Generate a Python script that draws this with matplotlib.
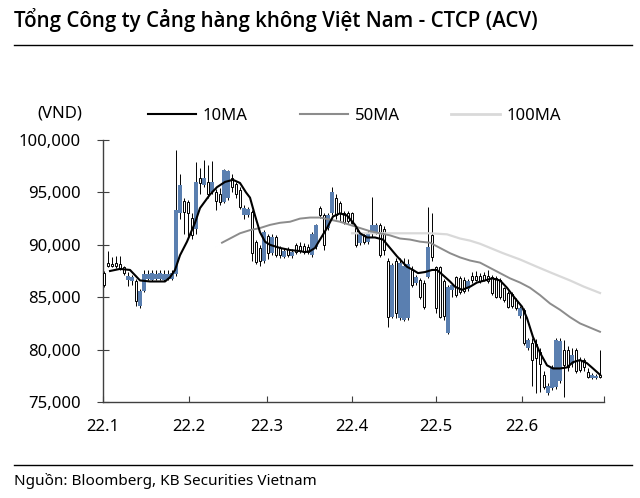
import numpy as np
import matplotlib.pyplot as plt
from matplotlib.lines import Line2D
from matplotlib.ticker import FuncFormatter

plt.rcParams['font.family'] = ['Noto Sans', 'DejaVu Sans']

# daily OHLC, thousand VND (Jan - Jun 2022)
opens = [
    87.3, 88.3, 88.2, 88.3, 88.2, 87.9, 86.6, 86.5, 86.5, 84.2,
    85.6, 86.7, 86.6, 86.7, 86.7, 86.6, 86.7, 86.7, 87.2, 93.0,
    94.2, 94.1, 92.6, 91.5, 96.4, 95.7, 96.0, 95.0, 95.0, 94.8,
    94.1, 94.5, 96.4, 95.8, 95.2, 92.8, 92.8, 93.1, 90.3, 89.7,
    88.5, 90.8, 89.2, 90.7, 89.7, 88.8, 89.6, 88.9, 90.0, 89.9,
    89.9, 89.8, 89.0, 89.8, 93.5, 92.8, 91.6, 93.0, 94.5, 94.0,
    93.0, 93.0, 93.0, 91.6, 90.2, 90.9, 90.3, 91.1, 91.2, 91.9,
    91.5, 88.5, 83.1, 88.5, 83.0, 82.8, 83.0, 87.6, 86.4, 86.6,
    86.4, 86.9, 90.9, 87.9, 87.9, 86.5, 81.6, 85.7, 86.9, 86.8,
    86.6, 85.8, 87.0, 87.0, 87.0, 87.1, 87.0, 86.9, 86.8, 86.6,
    85.9, 85.4, 85.3, 84.7, 83.2, 83.8, 80.2, 80.6, 80.5, 79.8,
    77.6, 75.9, 76.3, 76.4, 77.0, 80.0, 80.0, 78.6, 80.0, 79.0,
    79.0, 77.9, 77.3, 77.3, 77.6]
highs = [
    87.5, 89.4, 88.8, 88.9, 88.9, 88.0, 87.4, 87.1, 86.7, 85.8,
    87.6, 87.6, 87.6, 87.6, 87.6, 87.6, 87.6, 87.6, 99.0, 96.8,
    94.5, 94.3, 93.0, 97.9, 97.3, 98.1, 97.6, 98.0, 95.3, 95.4,
    97.2, 97.1, 96.8, 96.0, 95.5, 93.8, 93.6, 93.3, 90.5, 90.0,
    91.4, 91.0, 91.0, 90.9, 89.9, 89.7, 89.8, 89.6, 90.2, 90.3,
    90.2, 90.1, 91.2, 92.0, 93.7, 93.0, 93.0, 95.5, 94.8, 94.2,
    93.2, 93.2, 93.1, 91.8, 91.2, 91.1, 91.3, 94.6, 92.1, 92.1,
    91.8, 88.7, 88.3, 88.7, 88.7, 88.7, 88.6, 88.0, 87.1, 86.8,
    86.6, 93.6, 93.0, 88.0, 88.0, 86.7, 86.2, 86.4, 87.0, 87.0,
    86.9, 86.7, 87.4, 87.5, 87.3, 87.4, 87.6, 87.1, 87.0, 86.8,
    86.0, 85.6, 85.5, 84.9, 84.2, 84.0, 81.1, 81.1, 81.0, 80.2,
    78.0, 76.8, 78.5, 81.1, 81.1, 80.9, 80.3, 80.2, 80.2, 79.3,
    79.2, 78.2, 77.8, 77.7, 80.0]
lows = [
    86.0, 87.9, 87.9, 87.8, 87.6, 87.1, 86.1, 86.2, 84.2, 84.0,
    85.5, 86.6, 86.5, 86.6, 86.6, 86.5, 86.6, 86.6, 87.0, 92.5,
    91.0, 90.8, 90.6, 91.0, 94.8, 95.5, 94.5, 94.8, 93.3, 93.8,
    94.0, 94.3, 95.0, 94.5, 93.4, 92.5, 92.7, 88.5, 88.2, 88.0,
    88.3, 88.6, 89.0, 88.8, 88.7, 88.7, 88.8, 88.7, 89.1, 89.2,
    89.1, 89.1, 88.8, 89.6, 92.6, 89.5, 91.4, 92.8, 92.5, 92.3,
    92.0, 92.1, 92.0, 89.8, 90.0, 90.1, 90.1, 90.7, 91.0, 88.8,
    89.0, 82.2, 83.0, 83.0, 82.8, 82.7, 82.8, 86.0, 86.2, 84.8,
    83.9, 86.8, 88.5, 83.5, 83.0, 82.8, 81.5, 85.0, 85.0, 85.3,
    85.4, 85.6, 86.4, 86.5, 86.4, 86.5, 86.4, 85.2, 84.9, 84.8,
    84.5, 84.0, 84.0, 83.8, 83.0, 80.4, 80.0, 76.5, 75.9, 76.0,
    76.2, 75.7, 76.1, 76.2, 76.8, 75.5, 78.0, 78.3, 77.8, 77.9,
    78.0, 77.3, 77.2, 77.2, 77.3]
closes = [
    86.2, 88.0, 88.0, 88.0, 87.8, 87.3, 87.0, 86.9, 84.6, 85.6,
    87.2, 87.2, 87.3, 87.2, 87.3, 87.2, 87.2, 87.3, 93.3, 95.7,
    93.1, 93.0, 90.9, 96.0, 95.9, 96.4, 94.8, 96.0, 94.2, 94.1,
    97.1, 97.0, 95.5, 94.8, 93.6, 93.5, 93.4, 89.2, 88.4, 88.5,
    91.2, 89.2, 90.7, 89.0, 89.0, 89.4, 89.0, 89.3, 89.3, 89.4,
    89.3, 89.3, 91.0, 91.9, 92.8, 90.0, 92.8, 95.0, 92.8, 93.0,
    92.2, 92.3, 92.1, 90.0, 91.0, 90.3, 91.0, 91.9, 91.9, 89.0,
    89.5, 83.1, 88.1, 83.5, 88.3, 88.0, 88.2, 86.2, 86.9, 85.0,
    84.1, 89.8, 88.8, 84.0, 83.1, 83.2, 86.0, 86.2, 85.2, 85.5,
    85.6, 86.5, 86.6, 86.6, 86.5, 86.6, 86.5, 85.4, 85.0, 85.0,
    84.7, 84.1, 84.2, 84.0, 84.0, 80.6, 80.9, 79.0, 79.2, 78.6,
    76.4, 76.5, 78.3, 80.9, 80.8, 78.5, 78.3, 79.5, 78.0, 78.1,
    78.3, 77.4, 77.6, 77.5, 77.4]

# moving averages sampled from the chart (position in trading-day index, thousand VND)
ma10_pos = [1.5, 4, 6.5, 7.75, 9, 11.5, 15.25, 16.5, 17.75, 19, 20.75, 22.75, 24, 26.5,
            28.25, 30.25, 32.25, 34, 35.5, 36.5, 37.75, 39, 40.25, 41.5, 44, 46.5, 49,
            50.25, 51.5, 52.75, 54, 55.75, 57.25, 59, 60.75, 62.75, 64, 65.75, 67.75,
            69.75, 71.5, 73.25, 75.75, 77.25, 78.5, 80.25, 82, 83.25, 84.75, 86.5, 87.75,
            89.5, 91.5, 93.25, 95.25, 97, 99, 100.75, 102.75, 104.5, 105.75, 107.25, 109,
            110.75, 112.25, 114, 115.75, 117.25, 119, 120.75, 122.25, 124]
ma10_val = [87.5, 87.7, 87.6, 87.1, 86.6, 86.5, 86.5, 86.9, 87.6, 89.0, 90.3, 92.1, 93.5, 94.8,
            95.5, 96.0, 96.2, 95.9, 95.0, 94.5, 92.8, 91.2, 90.3, 90.0, 89.7, 89.5, 89.4,
            89.3, 89.4, 89.7, 90.5, 91.6, 92.7, 93.0, 92.8, 91.9, 91.1, 90.7, 90.7,
            90.5, 89.7, 88.9, 87.9, 87.6, 87.3, 87.4, 87.6, 87.6, 87.1, 86.5, 86.0,
            85.7, 86.0, 86.4, 86.6, 86.8, 86.6, 85.9, 84.9, 84.1, 83.0, 81.2, 79.7,
            78.5, 78.2, 78.2, 78.3, 78.8, 79.0, 78.7, 78.2, 77.6]
ma50_pos = [29.5, 31.5, 34, 36.5, 39, 41.5, 44, 46.5, 49, 51.5, 54, 56.5, 59, 61.5, 64, 66.5,
            69, 71.5, 74, 76.5, 79, 81.5, 84, 86.5, 89, 91.5, 94, 96.5, 99, 101.5, 104,
            106.5, 109, 111.5, 114, 116.5, 119, 121.5, 124]
ma50_val = [90.2, 90.6, 91.1, 91.4, 91.6, 91.9, 92.1, 92.2, 92.5, 92.6, 92.6, 92.4, 92.2, 91.9,
            91.6, 91.3, 91.1, 90.9, 90.6, 90.5, 90.3, 90.2, 89.7, 89.2, 88.8, 88.5, 88.3,
            87.8, 87.3, 86.8, 86.4, 85.9, 85.2, 84.4, 83.8, 83.1, 82.5, 82.1, 81.7]
ma100_pos = [62, 69, 74, 81.5, 85.75, 89, 91.5, 94, 99.75, 104, 108.25, 112, 116.5, 120, 124]
ma100_val = [91.1, 91.1, 91.1, 91.1, 91.0, 90.6, 90.4, 90.1, 89.2, 88.6, 87.9, 87.3, 86.6, 86.0, 85.4]

month_labels = ['22.1', '22.2', '22.3', '22.4', '22.5', '22.6', '']
month_pos = [-0.25, 21.25, 40.75, 62, 83, 104.5, 125]

BLUE = '#5A7FB0'

o = np.array(opens) * 1000
h = np.array(highs) * 1000
l = np.array(lows) * 1000
c = np.array(closes) * 1000
x = np.arange(len(c))
up = c >= o

fig = plt.figure(figsize=(6.4, 4.98), dpi=100)
ax = fig.add_axes([103 / 640, 1 - 402 / 498, 501 / 640, 262 / 498])

ax.vlines(x, l, h, color='black', lw=0.7, zorder=1)
ax.bar(x[up], (c - o)[up], bottom=o[up], width=1.0, color=BLUE, zorder=2)
ax.bar(x[~up], (o - c)[~up], bottom=c[~up], width=0.7, facecolor='white',
       edgecolor='black', lw=0.7, zorder=3)

ax.plot(ma100_pos, np.array(ma100_val) * 1000, color='#d9d9d9', lw=1.6, zorder=4)
ax.plot(ma50_pos, np.array(ma50_val) * 1000, color='#8c8c8c', lw=1.4, zorder=4)
ax.plot(ma10_pos, np.array(ma10_val) * 1000, color='black', lw=1.5, zorder=5)

ax.set_xlim(-0.25, 125)
ax.set_ylim(75000, 100000)
ax.set_yticks(np.arange(75000, 100001, 5000))
ax.yaxis.set_major_formatter(FuncFormatter(lambda v, p: f'{v:,.0f}'))
ax.set_xticks(month_pos)
ax.set_xticklabels(month_labels)

for s in ['top', 'right']:
    ax.spines[s].set_visible(False)
for s in ['left', 'bottom']:
    ax.spines[s].set_color('#404040')
    ax.spines[s].set_linewidth(1.0)
ax.tick_params(axis='y', direction='inout', length=8, width=0.8, color='#404040',
               pad=12, labelsize=12)
ax.tick_params(axis='x', direction='in', length=4, width=0.8, color='#404040',
               pad=12, labelsize=12)

# title, rules and source
fig.text(0.022, 0.96, 'Tổng Công ty Cảng hàng không Việt Nam - CTCP (ACV)',
         fontsize=14.8, fontweight='semibold', va='center', ha='left',
         family=['Open Sans', 'Noto Sans', 'DejaVu Sans'])
fig.add_artist(Line2D([0.022, 0.9875], [0.9096, 0.9096], transform=fig.transFigure,
                      color='black', lw=1))
fig.add_artist(Line2D([0.022, 0.9875], [0.0663, 0.0663], transform=fig.transFigure,
                      color='black', lw=1))
fig.text(0.022, 0.034, 'Nguồn: Bloomberg, KB Securities Vietnam', fontsize=11,
         va='center', ha='left')
fig.text(60 / 640, 1 - 113 / 498, '(VND)', fontsize=12, ha='center', va='center')

handles = [Line2D([], [], color='black', lw=1.5),
           Line2D([], [], color='#8c8c8c', lw=1.5),
           Line2D([], [], color='#d9d9d9', lw=2)]
fig.legend(handles, ['10MA', '50MA', '100MA'], loc='center left',
           bbox_to_anchor=(148 / 640, 1 - 116 / 498), ncol=3, frameon=False,
           borderpad=0, borderaxespad=0, handlelength=2.9, handletextpad=0.4,
           columnspacing=3.1, fontsize=12)

fig.savefig('out.png', dpi=100)
